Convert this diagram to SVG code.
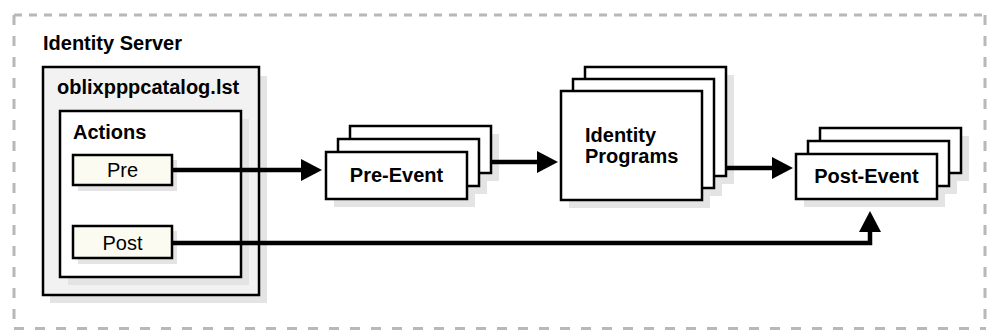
<svg xmlns="http://www.w3.org/2000/svg" width="987" height="330" viewBox="0 0 987 330">
  <defs>
    <style>
      .border { fill: none; stroke: #b8b8b8; stroke-width: 3; }
      .box { stroke: #000; stroke-width: 2.5; }
      .shadow { fill: #e4e4e4; stroke: none; }
      .white { fill: #ffffff; }
      .gray { fill: #f2f2f2; }
      .cream { fill: #fbfbf2; }
      .bold { font-family: "Liberation Sans", Arial, Helvetica, sans-serif; font-weight: bold; font-size: 20px; fill: #000; }
      .reg { font-family: "Liberation Sans", Arial, Helvetica, sans-serif; font-size: 20px; fill: #000; }
      .conn { fill: none; stroke: #000; stroke-width: 4.5; }
    </style>
    <marker id="arrow" markerUnits="userSpaceOnUse" markerWidth="22" markerHeight="22" refX="10" refY="11" orient="auto">
      <path d="M0,0 L21,11 L0,22 Z" fill="#000"/>
    </marker>
  </defs>
  <rect width="987" height="330" fill="#ffffff"/>

  <g id="identity-server">
    <line class="border" x1="14" y1="15" x2="986" y2="15" stroke-dasharray="8 7"/>
    <line class="border" x1="14" y1="15" x2="14" y2="330" stroke-dasharray="10 11"/>
    <line class="border" x1="14" y1="328.5" x2="986" y2="328.5" stroke-dasharray="10 11"/>
    <line class="border" x1="985" y1="15" x2="985" y2="330" stroke-dasharray="10 11"/>
    <text class="bold" x="43" y="50">Identity Server</text>
  </g>

  <g id="catalog">
    <rect class="shadow" x="50" y="76" width="217" height="227"/>
    <rect class="box gray" x="43" y="67" width="216" height="228"/>
    <text class="bold" x="57" y="94">oblixpppcatalog.lst</text>
  </g>

  <g id="actions">
    <rect class="shadow" x="68" y="119" width="181" height="166"/>
    <rect class="box white" x="60" y="111" width="181" height="166"/>
    <text class="bold" x="73" y="139">Actions</text>
  </g>

  <g id="pre">
    <rect class="shadow" x="78" y="160" width="99" height="31"/>
    <rect class="box cream" x="73" y="155" width="99" height="30"/>
    <text class="reg" x="122.5" y="177" text-anchor="middle">Pre</text>
  </g>

  <g id="post">
    <rect class="shadow" x="78" y="231" width="99" height="33"/>
    <rect class="box cream" x="73" y="226" width="99" height="32"/>
    <text class="reg" x="122.5" y="250" text-anchor="middle">Post</text>
  </g>

  <g id="pre-event">
    <rect class="shadow" x="358" y="134" width="141" height="47"/>
    <rect class="shadow" x="346" y="147" width="141" height="47"/>
    <rect class="shadow" x="334" y="160" width="141" height="47"/>
    <rect class="box white" x="350" y="126" width="141" height="47"/>
    <rect class="box white" x="338" y="139" width="141" height="47"/>
    <rect class="box white" x="326" y="152" width="141" height="47"/>
    <text class="bold" x="396.5" y="182" text-anchor="middle">Pre-Event</text>
  </g>

  <g id="identity-programs">
    <rect class="shadow" x="593" y="75" width="141" height="109"/>
    <rect class="shadow" x="581" y="87" width="141" height="109"/>
    <rect class="shadow" x="569" y="99" width="141" height="109"/>
    <rect class="box white" x="585" y="67" width="141" height="109"/>
    <rect class="box white" x="573" y="79" width="141" height="109"/>
    <rect class="box white" x="561" y="91" width="141" height="109"/>
    <text class="bold" x="585" y="142">Identity</text>
    <text class="bold" x="585" y="163">Programs</text>
  </g>

  <g id="post-event">
    <rect class="shadow" x="828" y="136" width="141" height="45"/>
    <rect class="shadow" x="816" y="149" width="141" height="45"/>
    <rect class="shadow" x="804" y="162" width="141" height="45"/>
    <rect class="box white" x="820" y="128" width="141" height="45"/>
    <rect class="box white" x="808" y="141" width="141" height="45"/>
    <rect class="box white" x="796" y="154" width="141" height="45"/>
    <text class="bold" x="866.5" y="183" text-anchor="middle">Post-Event</text>
  </g>

  <g id="connectors">
    <path class="conn" d="M173,170 H311" marker-end="url(#arrow)"/>
    <path class="conn" d="M492,162 H547" marker-end="url(#arrow)"/>
    <path class="conn" d="M727,168 H782" marker-end="url(#arrow)"/>
    <path class="conn" d="M173,243 H870 V222" marker-end="url(#arrow)"/>
  </g>
</svg>
